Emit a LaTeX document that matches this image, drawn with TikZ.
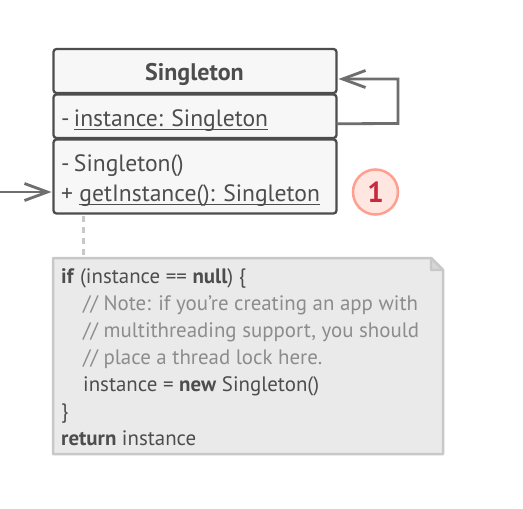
\documentclass[tikz,border=0pt]{standalone}
\usepackage{fontspec}
\setmainfont{PT Sans}
\usetikzlibrary{arrows.meta,positioning}
\definecolor{boxline}{HTML}{4D4D4D}
\definecolor{boxfill}{HTML}{F7F7F7}
\definecolor{wire}{HTML}{6E6E6E}
\definecolor{txt}{HTML}{4D4D4D}
\definecolor{notefill}{HTML}{EAEAEA}
\definecolor{noteline}{HTML}{C8C8C8}
\definecolor{cmt}{HTML}{8C8C8C}
\definecolor{badgeline}{HTML}{FF9F8F}
\definecolor{badgefill}{HTML}{FFE6E0}
\definecolor{badgetext}{HTML}{C8283C}
\newcommand\ulin[1]{\setbox0\hbox{#1}\rlap{\rule[-4pt]{\wd0}{1pt}}\box0}
\tikzset{
  x=1pt,y=-1pt,
  comp/.style={draw=boxline,line width=2.3pt,fill=boxfill,rounded corners=3pt,minimum width=283pt,inner sep=0pt,outer sep=0pt,anchor=north west},
  lbl/.style={anchor=base west,inner sep=0pt,text=txt,font=\fontsize{23.6}{27}\selectfont},
  code/.style={anchor=base west,inner sep=0pt,text=txt,font=\fontsize{20.9}{24}\selectfont},
  cmtline/.style={code,text=cmt},
  wireline/.style={draw=wire,line width=2.8pt,-{Straight Barb[length=23pt,width=17pt,line width=2.8pt]}},
}
\begin{document}
\begin{tikzpicture}
\useasboundingbox (0,0) rectangle (523,509);
\fill[white] (0,0) rectangle (523,509);
% dashed link
\coordinate (dashtop) at (83,216);
\coordinate (dashend) at (83,258);
\draw[noteline,line width=3pt,dash pattern=on 6pt off 5pt] (dashtop) -- (dashend);
% note
\draw[draw=noteline,fill=notefill,line width=2.5pt,line join=round] (53,258) -- (431,258) -- (443,270) -- (443,454) -- (53,454) -- cycle;
\draw[draw=noteline,fill=noteline!60!notefill,line width=2.2pt,line join=round] (431,258) -- (431,270) -- (443,270) -- cycle;
\node[code] (l1) at (61,283) {\textbf{if} (instance == \textbf{null}) \{};
\node[cmtline] (l2) at (83,310) {// Note: if you’re creating an app with};
\node[cmtline] (l3) at (83,337) {// multithreading support, you should};
\node[cmtline] (l4) at (83,364) {// place a thread lock here.};
\node[code] (l5) at (83,391) {instance = \textbf{new} Singleton()};
\node[code] (l6) at (61,418) {\}};
\node[code] (l7) at (61,445) {\textbf{return} instance};
% class
\node[comp,minimum height=44pt] (title) at (53.5,49) {};
\node[comp,minimum height=43.5pt] (attrs) at (53.5,94.5) {};
\node[comp,minimum height=74pt] (ops) at (53.5,139.5) {};
\node[anchor=base,inner sep=0pt,text=txt,font=\fontsize{24}{27}\selectfont\bfseries] (name) at (194.5,80) {Singleton};
\node[lbl] (a1) at (61,126) {-\kern-2pt{} \ulin{instance: Singleton}};
\node[lbl] (o1) at (61,171) {-\kern-2pt{} Singleton()};
\node[lbl] (o2) at (61,201) {+ \ulin{getInstance(): Singleton}};
% connectors
\coordinate (selfout) at ([yshift=-7.5pt]attrs.east);
\coordinate (selfin) at ([yshift=-8pt]title.east);
\coordinate (entry) at (0,192);
\coordinate (entrytip) at (ops.west |- entry);
\draw[wireline] (selfout) -- (398,123.5) -- (398,79) -- ([xshift=2pt]selfin);
\draw[wireline] (entry) -- ([xshift=-2pt]entrytip);
% badge
\node[circle,draw=badgeline,fill=badgefill,line width=2.5pt,minimum size=45pt,inner sep=0pt,text=badgetext,font=\fontsize{29}{30}\selectfont\bfseries] (badge) at (375.5,192) {1};
\end{tikzpicture}
\end{document}
